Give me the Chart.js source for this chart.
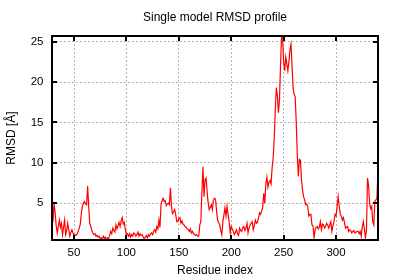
<!DOCTYPE html>
<html>
<head>
<meta charset="utf-8">
<title>Single model RMSD profile</title>
<script src="https://cdn.jsdelivr.net/npm/chart.js@4.4.1/dist/chart.umd.min.js"></script>
<style>
  html, body { margin: 0; padding: 0; background: #fff; }
  #wrap { width: 400px; height: 280px; }
</style>
</head>
<body>
<div id="wrap"><canvas id="rmsdChart" width="400" height="280"></canvas></div>
<script>
// per-residue RMSD, residues 29..340
const firstResidue = 29;
const rmsd = [
  6.6, 2.7, 4.9, 3.8, 2.2, 1.3, 2.1, 2.9, 2.0, 2.5,
  1.1, 2.0, 2.9, 1.1, 1.6, 2.5, 1.7, 0.9, 1.4, 1.7,
  1.3, 1.0, 1.1, 1.0, 1.2, 1.5, 1.9, 2.4, 3.8, 4.6,
  5.0, 5.2, 4.9, 4.8, 7.1, 4.6, 2.5, 2.1, 1.6, 1.3,
  1.1, 1.2, 0.9, 1.0, 0.8, 0.9, 0.6, 0.7, 0.6, 0.9,
  0.6, 0.8, 0.43, 0.7, 0.6, 1.0, 1.5, 1.2, 1.9, 1.6,
  1.4, 2.3, 1.8, 2.2, 2.6, 2.1, 2.8, 3.2, 2.4, 2.6,
  1.7, 1.1, 1.2, 0.9, 1.2, 0.8, 1.1, 0.9, 1.3, 1.2,
  0.9, 1.1, 1.4, 0.9, 1.2, 1.0, 1.1, 0.8, 0.6, 0.8,
  1.0, 0.7, 1.1, 0.9, 1.2, 1.3, 1.1, 1.5, 1.7, 1.4,
  2.1, 1.8, 2.9, 2.0, 4.8, 5.3, 5.6, 5.2, 5.3, 4.7,
  4.9, 5.0, 4.8, 6.9, 4.5, 3.7, 3.9, 4.2, 3.6, 2.7,
  2.7, 3.1, 3.2, 2.5, 2.8, 2.4, 2.3, 2.1, 2.0, 1.8,
  1.7, 1.5, 1.8, 1.3, 1.5, 1.2, 1.1, 1.0, 1.1, 0.9,
  0.9, 2.3, 2.7, 6.4, 9.5, 5.8, 7.9, 8.1, 6.4, 5.0,
  4.2, 4.5, 4.8, 4.2, 5.4, 5.6, 5.5, 4.0, 2.9, 2.6,
  2.3, 1.6, 1.1, 2.7, 3.5, 4.4, 3.4, 4.6, 3.5, 2.7,
  1.3, 2.1, 1.8, 1.5, 1.1, 1.4, 1.7, 1.2, 1.0, 1.9,
  1.6, 1.5, 2.0, 2.1, 1.6, 1.9, 2.5, 1.3, 1.9, 2.3,
  2.5, 2.7, 1.7, 2.2, 2.9, 2.5, 2.6, 3.2, 3.8, 3.6,
  4.0, 4.5, 6.2, 5.0, 7.4, 8.2, 7.0, 7.6, 7.8, 7.4,
  9.4, 10.6, 13.0, 16.5, 19.3, 18.3, 16.2, 17.8, 22.0, 25.7,
  25.4, 22.5, 21.4, 23.1, 22.3, 21.4, 22.5, 24.0, 24.7, 22.0,
  19.2, 18.5, 18.2, 15.0, 11.0, 8.3, 10.4, 10.3, 7.9, 6.6,
  5.8, 5.4, 4.8, 4.9, 4.6, 3.4, 3.6, 3.6, 2.3, 2.2,
  0.7, 1.7, 2.0, 2.1, 1.8, 2.0, 2.7, 1.7, 2.4, 2.3,
  1.9, 2.1, 2.5, 2.3, 1.9, 2.3, 2.7, 1.5, 2.2, 2.7,
  3.6, 3.4, 4.6, 5.8, 4.6, 3.6, 3.4, 2.9, 3.2, 2.6,
  1.9, 2.0, 2.1, 1.5, 1.7, 1.6, 1.3, 1.5, 1.6, 1.3,
  1.4, 1.5, 1.5, 1.2, 1.5, 0.9, 2.1, 2.7, 1.8,
  0.7, 1.6, 8.1, 7.2, 5.0, 4.3, 4.6, 2.7, 2.3, 5.2, 5.4, 5.6, 9.2
];
const xTicks = [50, 100, 150, 200, 250, 300];
const yTicks = [5, 10, 15, 20, 25];
const xRange = [29, 340];
const yRange = [0.43, 25.7];

const FONT = '"Liberation Sans", Arial, sans-serif';

// gnuplot-ish frame: thick border + inward mirrored ticks
const frame = {
  id: 'frame',
  afterDatasetsDraw(chart){
    const { ctx, chartArea: a, scales: { x, y } } = chart;
    ctx.save();
    ctx.strokeStyle = '#000';
    ctx.lineWidth = 2;
    ctx.beginPath();
    xTicks.forEach(v => {
      const px = Math.round(x.getPixelForValue(v));
      ctx.moveTo(px, a.bottom); ctx.lineTo(px, a.bottom - 5);
      ctx.moveTo(px, a.top); ctx.lineTo(px, a.top + 5);
    });
    yTicks.forEach(v => {
      const py = Math.round(y.getPixelForValue(v));
      ctx.moveTo(a.left, py); ctx.lineTo(a.left + 5, py);
      ctx.moveTo(a.right, py); ctx.lineTo(a.right - 5, py);
    });
    ctx.stroke();
    ctx.strokeRect(a.left, a.top, a.right - a.left, a.bottom - a.top);
    ctx.restore();
  }
};

const grid = { color: '#b4b4b4', lineWidth: 1, drawTicks: false };
const border = { display: false, dash: [2, 2] };

new Chart(document.getElementById('rmsdChart').getContext('2d'), {
  type: 'line',
  data: {
    datasets: [{
      data: rmsd.map((v, i) => ({ x: firstResidue + i, y: v })),
      borderColor: '#ff0000',
      borderWidth: 1.2,
      pointRadius: 0,
      tension: 0,
      fill: false
    }]
  },
  options: {
    responsive: false,
    animation: false,
    devicePixelRatio: 1,
    layout: { padding: { top: 0, right: 22, left: 0, bottom: 0 } },
    plugins: {
      legend: { display: false },
      tooltip: { enabled: false },
      title: {
        display: true,
        text: 'Single model RMSD profile',
        fullSize: false,
        color: '#000',
        font: { family: FONT, size: 12, weight: 'normal' },
        padding: { top: 10, bottom: 11.6 }
      }
    },
    scales: {
      x: {
        type: 'linear',
        min: xRange[0], max: xRange[1],
        afterBuildTicks: s => { s.ticks = xTicks.map(v => ({ value: v })); },
        afterFit: s => { s.height = 40; },
        grid, border,
        ticks: { color: '#000', padding: 6, maxRotation: 0, autoSkip: false, font: { family: FONT, size: 11.5 } },
        title: { display: true, text: 'Residue index', color: '#000', font: { family: FONT, size: 12 }, padding: { top: 0, bottom: 2 } }
      },
      y: {
        type: 'linear',
        min: yRange[0], max: yRange[1],
        afterBuildTicks: s => { s.ticks = yTicks.map(v => ({ value: v })); },
        afterFit: s => { s.width = 52; },
        grid, border,
        ticks: { color: '#000', padding: 8.5, font: { family: FONT, size: 11.5 } },
        title: { display: true, text: 'RMSD [Å]', color: '#000', font: { family: FONT, size: 12 }, padding: { top: 4, bottom: 0 } }
      }
    }
  },
  plugins: [frame]
});
</script>
</body>
</html>
